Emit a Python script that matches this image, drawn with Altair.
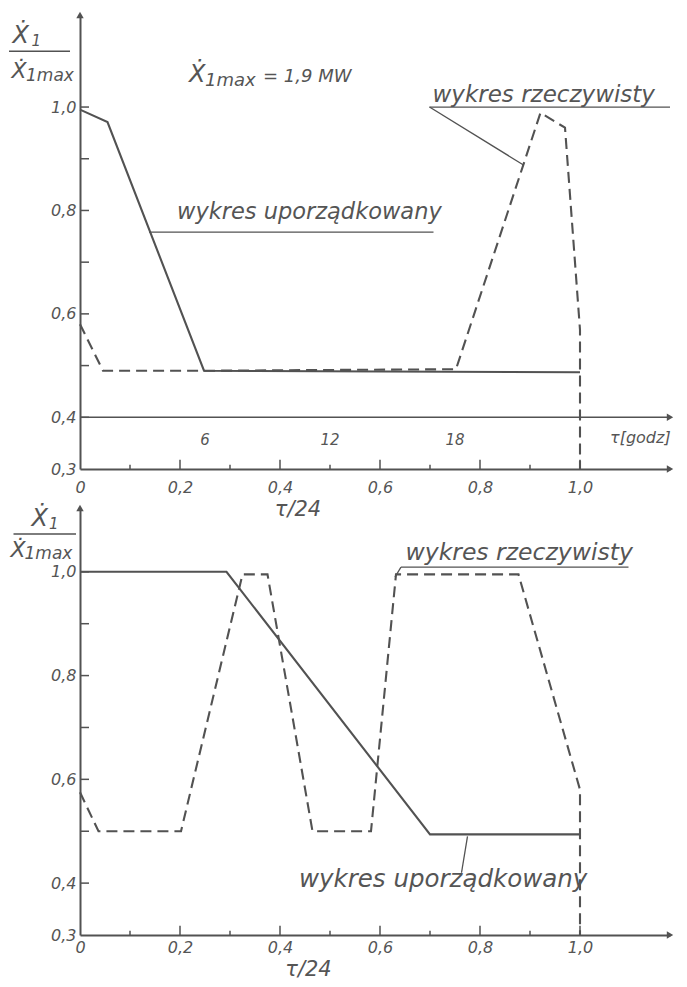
import altair as alt
import pandas as pd

# ---------------- data ----------------
# upper panel
top_solid_x = [0.0, 0.055, 0.248, 1.0]
top_solid_y = [0.995, 0.971, 0.49, 0.487]
top_dash_x = [0.0, 0.046, 0.25, 0.752, 0.921, 0.970, 1.0, 1.0]
top_dash_y = [0.58, 0.49, 0.49, 0.493, 0.989, 0.96, 0.569, 0.3]

# lower panel
bot_solid_x = [0.0, 0.293, 0.70, 1.0]
bot_solid_y = [1.0, 1.0, 0.494, 0.494]
bot_dash_x = [0.0, 0.037, 0.202, 0.325, 0.375, 0.465, 0.582, 0.632, 0.877, 1.0, 1.0]
bot_dash_y = [0.575, 0.5, 0.5, 0.995, 0.995, 0.5, 0.5, 0.995, 0.995, 0.58, 0.3]

x_label_values = [0.0, 0.2, 0.4, 0.6, 0.8, 1.0]
y_label_values = [0.3, 0.4, 0.6, 0.8, 1.0]
x_minor_ticks = [0.1, 0.3, 0.5, 0.7, 0.9]
x_major_ticks = [0.2, 0.4, 0.6, 0.8, 1.0]
y_ticks = [0.4, 0.5, 0.6, 0.7, 0.8, 0.9, 1.0]
hour_pos = [0.25, 0.5, 0.75]
hour_labels = ["6", "12", "18"]

X_MAX = 1.18
TOP_YMAX = 1.178
BOT_YMAX = 1.123

INK = "#525252"
TXT = "#555555"
FONT = "DejaVu Sans"


def xe(pad=6):
    return alt.X("x", type="quantitative",
                 scale=alt.Scale(domain=[0, X_MAX], nice=False, zero=False),
                 axis=alt.Axis(values=x_label_values, title=None, grid=False, ticks=False,
                               domainColor=INK, domainWidth=2, labelColor=TXT,
                               labelFont=FONT, labelFontStyle="italic", labelFontSize=16,
                               labelPadding=pad, labelFlush=False,
                               labelExpr="datum.value == 0 ? '0' : replace(format(datum.value, '.1f'), '.', ',')"))


def ye(ymax):
    return alt.Y("y", type="quantitative",
                 scale=alt.Scale(domain=[0.3, ymax], nice=False, zero=False),
                 axis=alt.Axis(values=y_label_values, title=None, grid=False, ticks=False,
                               domainColor=INK, domainWidth=2, labelColor=TXT,
                               labelFont=FONT, labelFontStyle="italic", labelFontSize=16,
                               labelPadding=4, labelFlush=False,
                               labelExpr="replace(format(datum.value, '.1f'), '.', ',')"))


class Panel:
    def __init__(self, ymax, xpad):
        self.ymax = ymax
        self.xpad = xpad
        self.layers = []

    def enc(self):
        return dict(x=xe(self.xpad), y=ye(self.ymax))

    def series(self, xs, ys, dashed):
        df = pd.DataFrame({"x": xs, "y": ys, "i": list(range(len(xs)))})
        kw = dict(color=INK, strokeWidth=2.1)
        if dashed:
            kw["strokeDash"] = [11, 6]
        self.layers.append(alt.Chart(df).mark_line(**kw).encode(order=alt.Order("i:Q"), **self.enc()))

    def seg(self, x1, y1, x2, y2, width=1.3):
        df = pd.DataFrame({"x": [x1], "y": [y1], "x2": [x2], "y2": [y2]})
        self.layers.append(alt.Chart(df).mark_rule(color=INK, strokeWidth=width).encode(
            x2="x2:Q", y2="y2:Q", **self.enc()))

    def label(self, text, x, y, size, align="left", baseline="alphabetic"):
        df = pd.DataFrame({"x": [x], "y": [y], "t": [text]})
        self.layers.append(alt.Chart(df).mark_text(
            font=FONT, fontStyle="italic", fontSize=size, color=TXT,
            align=align, baseline=baseline).encode(text="t:N", **self.enc()))

    def labels(self, texts, xs, y, size):
        df = pd.DataFrame({"x": xs, "y": [y] * len(xs), "t": texts})
        self.layers.append(alt.Chart(df).mark_text(
            font=FONT, fontStyle="italic", fontSize=size, color=TXT,
            align="center", baseline="middle").encode(text="t:N", **self.enc()))

    def arrow(self, x, y, shape):
        df = pd.DataFrame({"x": [x], "y": [y]})
        self.layers.append(alt.Chart(df).mark_point(
            shape=shape, filled=True, size=55, color=INK, opacity=1).encode(**self.enc()))

    def ticks(self, xlen, ylen_major, ylen_minor):
        rows = []
        for v in x_major_ticks:
            rows.append({"x": v, "y": 0.3, "x2": v, "y2": 0.3 + ylen_major})
        for v in x_minor_ticks:
            rows.append({"x": v, "y": 0.3, "x2": v, "y2": 0.3 + ylen_minor})
        for v in y_ticks:
            rows.append({"x": 0.0, "y": v, "x2": xlen, "y2": v})
        df = pd.DataFrame(rows)
        self.layers.append(alt.Chart(df).mark_rule(color=INK, strokeWidth=1.5).encode(
            x2="x2:Q", y2="y2:Q", **self.enc()))

    def fraction(self, xs, ys):
        # xs: upper X, upper 1, line start, line end, lower X, lower 1max
        # ys: upper baseline, upper sub baseline, line, lower baseline, lower sub baseline
        self.label("Ẋ", xs[0], ys[0], 24)
        self.label("1", xs[1], ys[1], 15)
        self.seg(xs[2], ys[2], xs[3], ys[2], 1.5)
        self.label("Ẋ", xs[4], ys[3], 22)
        self.label("1max", xs[5], ys[4], 17)

    def chart(self, w, h):
        return alt.layer(*self.layers).properties(width=w, height=h)


# ---------------- upper panel ----------------
top = Panel(TOP_YMAX, 10)
top.ticks(0.018, 0.018, 0.008)
top.series(top_solid_x, top_solid_y, False)
top.series(top_dash_x, top_dash_y, True)
top.arrow(X_MAX, 0.3, "triangle-right")
top.arrow(0.0, TOP_YMAX, "triangle-up")
# secondary hour axis
top.seg(0.0, 0.4, X_MAX, 0.4, 1.6)
top.arrow(X_MAX, 0.4, "triangle-right")
top.labels(hour_labels, hour_pos, 0.356, 15)
top.label("τ[godz]", 1.06, 0.36, 16, baseline="middle")
top.label("τ/24", 0.436, 0.221, 21, align="center", baseline="middle")
# max value note
top.label("Ẋ", 0.218, 1.049, 24)
top.label("1max", 0.25, 1.041, 18)
top.label("= 1,9 MW", 0.366, 1.049, 18)
# annotations
top.label("wykres rzeczywisty", 0.705, 1.01, 23)
top.seg(0.699, 1.0, 1.18, 1.0)
top.seg(0.699, 1.0, 0.887, 0.888)
top.label("wykres uporządkowany", 0.194, 0.784, 22.5)
top.seg(0.138, 0.758, 0.707, 0.758)
top.fraction((-0.135, -0.097, -0.142, -0.02, -0.137, -0.108),
             (1.124, 1.118, 1.108, 1.056, 1.051))

# ---------------- lower panel ----------------
bot = Panel(BOT_YMAX, 4)
bot.ticks(0.018, 0.018, 0.008)
bot.series(bot_solid_x, bot_solid_y, False)
bot.series(bot_dash_x, bot_dash_y, True)
bot.arrow(X_MAX, 0.3, "triangle-right")
bot.arrow(0.0, BOT_YMAX, "triangle-up")
bot.label("τ/24", 0.457, 0.232, 21, align="center", baseline="middle")
bot.label("wykres rzeczywisty", 0.651, 1.022, 23.5)
bot.seg(0.642, 1.009, 1.097, 1.009)
bot.seg(0.642, 1.009, 0.630, 0.99)
bot.label("wykres uporządkowany", 0.438, 0.392, 24.5)
bot.seg(0.775, 0.49, 0.763, 0.42)
bot.fraction((-0.097, -0.062, -0.133, -0.008, -0.139, -0.111),
             (1.088, 1.083, 1.073, 1.029, 1.025))

chart = alt.vconcat(top.chart(590, 454), bot.chart(590, 427), spacing=39, bounds="flush").properties(
    padding={"left": 0, "top": 3, "right": 0, "bottom": 0},
    background="white",
).configure_view(stroke=None)

chart.save("out.html", embed_options={"renderer": "svg", "actions": False})
